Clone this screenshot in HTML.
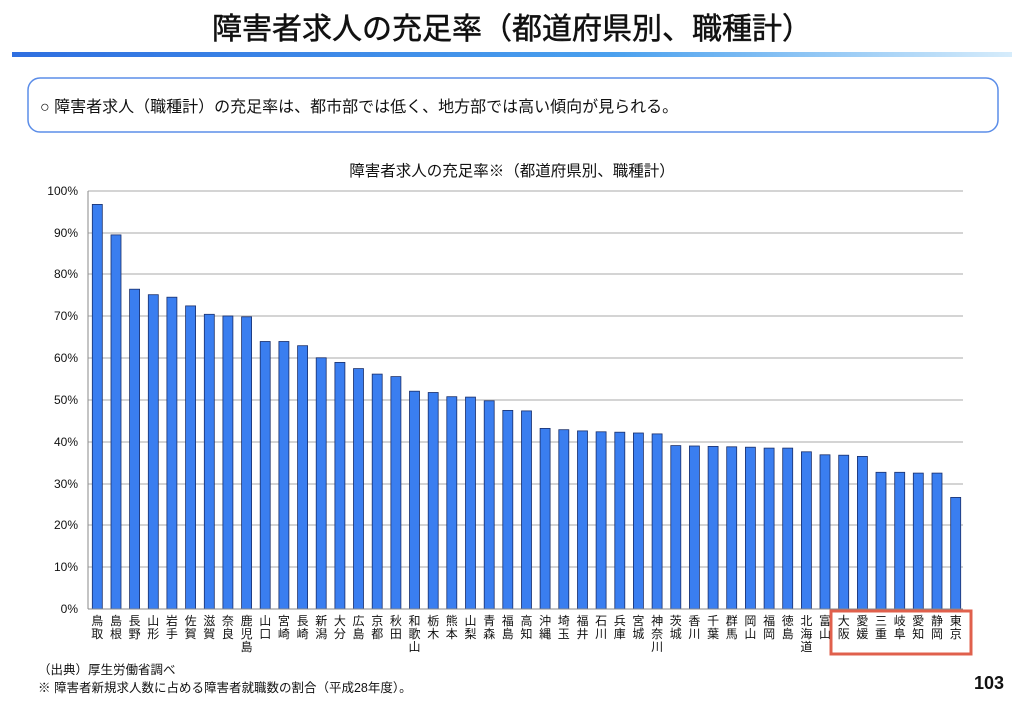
<!DOCTYPE html>
<html><head><meta charset="utf-8"><style>
body{margin:0;width:1024px;height:704px;background:#fff;overflow:hidden;font-family:"Liberation Sans","Noto Sans CJK JP",sans-serif}
</style></head><body>
<svg width="1024" height="704" viewBox="0 0 1024 704" xmlns="http://www.w3.org/2000/svg" font-family="Liberation Sans, Noto Sans CJK JP, sans-serif">
<defs><linearGradient id="g" x1="0" x2="1"><stop offset="0" stop-color="#2f6fe0"/><stop offset="0.6" stop-color="#4aa0ee"/><stop offset="1" stop-color="#d6ecfb"/></linearGradient></defs>
<text x="512" y="39" font-size="30" text-anchor="middle" fill="#111" stroke="#111" stroke-width="0.5">障害者求人の充足率（都道府県別、職種計）</text>
<rect x="12" y="52" width="1000" height="5" fill="url(#g)"/>
<rect x="28" y="78" width="970" height="54" rx="12" fill="#fff" stroke="#5b8de8" stroke-width="1.5"/>
<text x="40" y="112" font-size="16" fill="#111">○  障害者求人（職種計）の充足率は、都市部では低く、地方部では高い傾向が見られる。</text>
<text x="512" y="176" font-size="15.5" text-anchor="middle" fill="#111">障害者求人の充足率※（都道府県別、職種計）</text>
<g stroke="#bbb" stroke-width="1.3">
<line x1="88" y1="191" x2="963" y2="191"/><line x1="88" y1="233" x2="963" y2="233"/><line x1="88" y1="274" x2="963" y2="274"/><line x1="88" y1="316" x2="963" y2="316"/><line x1="88" y1="358" x2="963" y2="358"/><line x1="88" y1="400" x2="963" y2="400"/><line x1="88" y1="442" x2="963" y2="442"/><line x1="88" y1="484" x2="963" y2="484"/><line x1="88" y1="525" x2="963" y2="525"/><line x1="88" y1="567" x2="963" y2="567"/>
</g>
<g font-size="12" text-anchor="end" fill="#111">
<text x="78" y="195">100%</text><text x="78" y="237">90%</text><text x="78" y="278">80%</text><text x="78" y="320">70%</text><text x="78" y="362">60%</text><text x="78" y="404">50%</text><text x="78" y="446">40%</text><text x="78" y="488">30%</text><text x="78" y="529">20%</text><text x="78" y="571">10%</text><text x="78" y="613">0%</text>
</g>
<g fill="#3a7ef0" stroke="#1a2f6a" stroke-width="0.8">
<rect x="92.3" y="204.4" width="10" height="404.6"/><rect x="111.0" y="234.9" width="10" height="374.1"/><rect x="129.6" y="289.2" width="10" height="319.8"/><rect x="148.3" y="294.7" width="10" height="314.3"/><rect x="166.9" y="297.2" width="10" height="311.8"/><rect x="185.6" y="305.9" width="10" height="303.1"/><rect x="204.3" y="314.3" width="10" height="294.7"/><rect x="222.9" y="316" width="10" height="293"/><rect x="241.6" y="316.8" width="10" height="292.2"/><rect x="260.2" y="341.5" width="10" height="267.5"/><rect x="278.9" y="341.5" width="10" height="267.5"/><rect x="297.6" y="345.7" width="10" height="263.3"/><rect x="316.2" y="357.8" width="10" height="251.2"/><rect x="334.9" y="362.4" width="10" height="246.6"/><rect x="353.5" y="368.6" width="10" height="240.4"/><rect x="372.2" y="374.1" width="10" height="234.9"/><rect x="390.9" y="376.6" width="10" height="232.4"/><rect x="409.5" y="391.2" width="10" height="217.8"/><rect x="428.2" y="392.5" width="10" height="216.5"/><rect x="446.8" y="396.7" width="10" height="212.3"/><rect x="465.5" y="397.1" width="10" height="211.9"/><rect x="484.2" y="400.8" width="10" height="208.2"/><rect x="502.8" y="410.4" width="10" height="198.6"/><rect x="521.5" y="410.9" width="10" height="198.1"/><rect x="540.1" y="428.4" width="10" height="180.6"/><rect x="558.8" y="429.7" width="10" height="179.3"/><rect x="577.5" y="430.9" width="10" height="178.1"/><rect x="596.1" y="431.8" width="10" height="177.2"/><rect x="614.8" y="432.2" width="10" height="176.8"/><rect x="633.4" y="433" width="10" height="176"/><rect x="652.1" y="433.9" width="10" height="175.1"/><rect x="670.8" y="445.6" width="10" height="163.4"/><rect x="689.4" y="446" width="10" height="163"/><rect x="708.1" y="446.4" width="10" height="162.6"/><rect x="726.7" y="446.8" width="10" height="162.2"/><rect x="745.4" y="447.2" width="10" height="161.8"/><rect x="764.1" y="448.1" width="10" height="160.9"/><rect x="782.7" y="448.1" width="10" height="160.9"/><rect x="801.4" y="451.8" width="10" height="157.2"/><rect x="820.0" y="454.8" width="10" height="154.2"/><rect x="838.7" y="455.2" width="10" height="153.8"/><rect x="857.4" y="456.4" width="10" height="152.6"/><rect x="876.0" y="472.3" width="10" height="136.7"/><rect x="894.7" y="472.3" width="10" height="136.7"/><rect x="913.3" y="473.1" width="10" height="135.9"/><rect x="932.0" y="473.1" width="10" height="135.9"/><rect x="950.7" y="497.4" width="10" height="111.6"/>
</g>
<line x1="88" y1="191" x2="88" y2="609" stroke="#888" stroke-width="1"/>
<line x1="88" y1="609" x2="963" y2="609" stroke="#888" stroke-width="1"/>
<g font-size="12" text-anchor="middle" fill="#111">
<text y="625"><tspan x="97.3">鳥</tspan><tspan x="97.3" dy="13">取</tspan></text>
<text y="625"><tspan x="116">島</tspan><tspan x="116" dy="13">根</tspan></text>
<text y="625"><tspan x="134.6">長</tspan><tspan x="134.6" dy="13">野</tspan></text>
<text y="625"><tspan x="153.3">山</tspan><tspan x="153.3" dy="13">形</tspan></text>
<text y="625"><tspan x="171.9">岩</tspan><tspan x="171.9" dy="13">手</tspan></text>
<text y="625"><tspan x="190.6">佐</tspan><tspan x="190.6" dy="13">賀</tspan></text>
<text y="625"><tspan x="209.3">滋</tspan><tspan x="209.3" dy="13">賀</tspan></text>
<text y="625"><tspan x="227.9">奈</tspan><tspan x="227.9" dy="13">良</tspan></text>
<text y="625"><tspan x="246.6">鹿</tspan><tspan x="246.6" dy="13">児</tspan><tspan x="246.6" dy="13">島</tspan></text>
<text y="625"><tspan x="265.2">山</tspan><tspan x="265.2" dy="13">口</tspan></text>
<text y="625"><tspan x="283.9">宮</tspan><tspan x="283.9" dy="13">崎</tspan></text>
<text y="625"><tspan x="302.6">長</tspan><tspan x="302.6" dy="13">崎</tspan></text>
<text y="625"><tspan x="321.2">新</tspan><tspan x="321.2" dy="13">潟</tspan></text>
<text y="625"><tspan x="339.9">大</tspan><tspan x="339.9" dy="13">分</tspan></text>
<text y="625"><tspan x="358.5">広</tspan><tspan x="358.5" dy="13">島</tspan></text>
<text y="625"><tspan x="377.2">京</tspan><tspan x="377.2" dy="13">都</tspan></text>
<text y="625"><tspan x="395.9">秋</tspan><tspan x="395.9" dy="13">田</tspan></text>
<text y="625"><tspan x="414.5">和</tspan><tspan x="414.5" dy="13">歌</tspan><tspan x="414.5" dy="13">山</tspan></text>
<text y="625"><tspan x="433.2">栃</tspan><tspan x="433.2" dy="13">木</tspan></text>
<text y="625"><tspan x="451.8">熊</tspan><tspan x="451.8" dy="13">本</tspan></text>
<text y="625"><tspan x="470.5">山</tspan><tspan x="470.5" dy="13">梨</tspan></text>
<text y="625"><tspan x="489.2">青</tspan><tspan x="489.2" dy="13">森</tspan></text>
<text y="625"><tspan x="507.8">福</tspan><tspan x="507.8" dy="13">島</tspan></text>
<text y="625"><tspan x="526.5">高</tspan><tspan x="526.5" dy="13">知</tspan></text>
<text y="625"><tspan x="545.1">沖</tspan><tspan x="545.1" dy="13">縄</tspan></text>
<text y="625"><tspan x="563.8">埼</tspan><tspan x="563.8" dy="13">玉</tspan></text>
<text y="625"><tspan x="582.5">福</tspan><tspan x="582.5" dy="13">井</tspan></text>
<text y="625"><tspan x="601.1">石</tspan><tspan x="601.1" dy="13">川</tspan></text>
<text y="625"><tspan x="619.8">兵</tspan><tspan x="619.8" dy="13">庫</tspan></text>
<text y="625"><tspan x="638.4">宮</tspan><tspan x="638.4" dy="13">城</tspan></text>
<text y="625"><tspan x="657.1">神</tspan><tspan x="657.1" dy="13">奈</tspan><tspan x="657.1" dy="13">川</tspan></text>
<text y="625"><tspan x="675.8">茨</tspan><tspan x="675.8" dy="13">城</tspan></text>
<text y="625"><tspan x="694.4">香</tspan><tspan x="694.4" dy="13">川</tspan></text>
<text y="625"><tspan x="713.1">千</tspan><tspan x="713.1" dy="13">葉</tspan></text>
<text y="625"><tspan x="731.7">群</tspan><tspan x="731.7" dy="13">馬</tspan></text>
<text y="625"><tspan x="750.4">岡</tspan><tspan x="750.4" dy="13">山</tspan></text>
<text y="625"><tspan x="769.1">福</tspan><tspan x="769.1" dy="13">岡</tspan></text>
<text y="625"><tspan x="787.7">徳</tspan><tspan x="787.7" dy="13">島</tspan></text>
<text y="625"><tspan x="806.4">北</tspan><tspan x="806.4" dy="13">海</tspan><tspan x="806.4" dy="13">道</tspan></text>
<text y="625"><tspan x="825">富</tspan><tspan x="825" dy="13">山</tspan></text>
<text y="625"><tspan x="843.7">大</tspan><tspan x="843.7" dy="13">阪</tspan></text>
<text y="625"><tspan x="862.4">愛</tspan><tspan x="862.4" dy="13">媛</tspan></text>
<text y="625"><tspan x="881">三</tspan><tspan x="881" dy="13">重</tspan></text>
<text y="625"><tspan x="899.7">岐</tspan><tspan x="899.7" dy="13">阜</tspan></text>
<text y="625"><tspan x="918.3">愛</tspan><tspan x="918.3" dy="13">知</tspan></text>
<text y="625"><tspan x="937">静</tspan><tspan x="937" dy="13">岡</tspan></text>
<text y="625"><tspan x="955.7">東</tspan><tspan x="955.7" dy="13">京</tspan></text>
</g>
<rect x="831" y="611" width="140" height="43" fill="none" stroke="#e0604c" stroke-width="3"/>
<text x="38" y="674" font-size="12.5" fill="#111">（出典）厚生労働省調べ</text>
<text x="38" y="692" font-size="12.5" fill="#111">※  障害者新規求人数に占める障害者就職数の割合（平成28年度）。</text>
<text x="1004" y="689" font-size="18" font-weight="bold" text-anchor="end" fill="#111">103</text>
</svg>
</body></html>
